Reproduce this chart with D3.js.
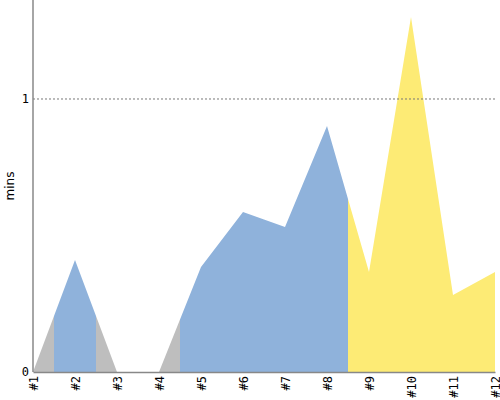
<!DOCTYPE html>
<html><head><meta charset="utf-8">
<script src="https://cdn.jsdelivr.net/npm/d3@7"></script>
<style>body{margin:0;background:#fff}svg{display:block;font-family:"DejaVu Sans",sans-serif}</style>
</head><body>
<svg id="c" width="500" height="400"></svg>
<script>
const categories = ["#1","#2","#3","#4","#5","#6","#7","#8","#9","#10","#11","#12"];
const values = [0, 0.41, 0, 0, 0.385, 0.586, 0.531, 0.901, 0.366, 1.30, 0.282, 0.366];
const groups = ["gray","blue","gray","gray","blue","blue","blue","blue","yellow","yellow","yellow","yellow"];
const groupColors = {gray:"#bebebe", blue:"#8fb2db", yellow:"#fdeb75"};
const yTicks = [0, 1];
const yLabel = "mins";

const svg = d3.select("#c");
const m = {l:33, r:5, t:0, b:28};
const W = 500, H = 400;
const x = d3.scalePoint().domain(categories).range([m.l, W - m.r]);
const y = d3.scaleLinear().domain([0, 1.3626]).range([H - m.b, m.t]);
const step = x.step();

const defs = svg.append("defs");
categories.forEach((c, i) => {
  const x0 = Math.max(m.l, x(c) - step/2), x1 = Math.min(W - m.r, x(c) + step/2);
  defs.append("clipPath").attr("id", "cp" + i)
    .append("rect").attr("x", x0).attr("y", 0).attr("width", x1 - x0).attr("height", H);
});
const area = d3.area().x((d, i) => x(categories[i])).y0(y(0)).y1(d => y(d));
categories.forEach((c, i) => {
  svg.append("path").datum(values).attr("d", area)
    .attr("fill", groupColors[groups[i]]).attr("clip-path", "url(#cp" + i + ")");
});

// grid line at 1
svg.append("line").attr("x1", m.l).attr("x2", W - m.r).attr("y1", y(1)).attr("y2", y(1))
  .attr("stroke", "#777").attr("stroke-dasharray", "2,2").attr("stroke-width", 1);

// y axis
const ya = svg.append("g").attr("transform", `translate(${m.l},0)`)
  .call(d3.axisLeft(y).tickValues(yTicks).tickSize(0).tickPadding(4).tickFormat(d3.format("d")));
ya.select(".domain").attr("stroke", "#888").attr("stroke-width", 1.5).attr("d", `M0,0V${y(0)}`);
ya.selectAll("text").attr("font-size", 12).attr("fill", "#000").attr("font-family", "DejaVu Sans Mono");

// x axis
const xa = svg.append("g").attr("transform", `translate(0,${y(0)})`)
  .call(d3.axisBottom(x).tickSize(0));
xa.select(".domain").attr("stroke", "#888").attr("stroke-width", 1.5);
xa.selectAll("text").attr("font-size", 12).attr("fill", "#000").attr("font-family", "DejaVu Sans Mono")
  .attr("text-anchor", "end").attr("y", 0).attr("dy", "0.35em")
  .attr("transform", "translate(0,4) rotate(-90)");

svg.append("text").attr("transform", `translate(14,${(y(0)+m.t)/2}) rotate(-90)`)
  .attr("text-anchor", "middle").attr("font-size", 12).text(yLabel);
</script>
</body></html>
